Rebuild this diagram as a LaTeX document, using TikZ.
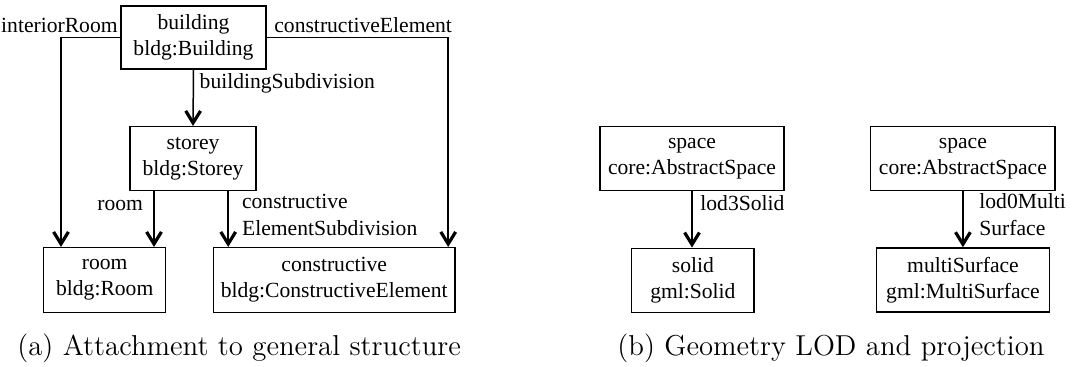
\documentclass[tikz,border=0pt]{standalone}
\usepackage{fontspec}
\newfontfamily\diagfont{Liberation Serif}
\usetikzlibrary{arrows.meta}
\begin{document}
\begin{tikzpicture}[
  x=0.5pt, y=-0.5pt,
  box/.style={draw, line width=0.75pt, inner sep=0pt, align=center,
    font=\diagfont\fontsize{10.8}{13}\selectfont},
  arr/.style={line width=0.75pt,
    -{Straight Barb[length=6pt,width=7.4pt,line width=1.6pt]}},
  lbl/.style={inner sep=0pt, align=left,
    font=\diagfont\fontsize{10.8}{13.4}\selectfont},
  captext/.style={inner sep=0pt, anchor=base west,
    font=\fontsize{14.4}{17}\selectfont}
]
\useasboundingbox (0,0) rectangle (1074,366);

% (a) attachment to the general structure
\node[box, minimum width=72.5pt, minimum height=31.5pt] (bldg) at (193.5,37.5) {building\\bldg:Building};
\node[box, minimum width=63pt, minimum height=32pt] (storey) at (193,158.7) {storey\\bldg:Storey};
\node[box, minimum width=61pt, minimum height=32.3pt] (room) at (104.7,280) {room\\bldg:Room};
\node[box, minimum width=120.8pt, minimum height=32.3pt] (constr) at (334.2,280) {constructive\\bldg:ConstructiveElement};

\draw[arr] (bldg.south) -- (storey.north);
\draw[arr] ([xshift=-19.5pt]storey.south) -- ([xshift=-19.5pt]storey.south |- room.north);
\draw[arr] ([xshift=17.6pt]storey.south) -- ([xshift=17.6pt]storey.south |- constr.north);
\draw[arr] (bldg.west) -| ([xshift=-21.85pt]room.north);
\draw[arr] (bldg.east) -| ([xshift=57pt]constr.north);

\node[lbl, anchor=base east] (lIR) at (118,32.3) {interiorRoom};
\node[lbl, anchor=base west] (lCE) at (274,32.3) {constructiveElement};
\node[lbl, anchor=base west] (lBS) at (199.3,88.3) {buildingSubdivision};
\node[lbl, anchor=base east] (lR) at (143.3,210.7) {room};
% for a two-line label the base anchor sits on the last line
\node[lbl, anchor=base west] (lCES) at (241.7,235) {constructive\\ElementSubdivision};

% (b) geometry LOD and projection
\node[box, minimum width=92pt, minimum height=32pt] (sp1) at (692,158.7) {space\\core:AbstractSpace};
\node[box, minimum width=61.2pt, minimum height=32pt] (solid) at (692.9,280.3) {solid\\gml:Solid};
\node[box, minimum width=92.2pt, minimum height=32pt] (sp2) at (962.9,158.7) {space\\core:AbstractSpace};
\node[box, minimum width=86.3pt, minimum height=32pt] (msurf) at (963,280) {multiSurface\\gml:MultiSurface};

\draw[arr] (sp1.south) -- (sp1.south |- solid.north);
\draw[arr] (sp2.south) -- (sp2.south |- msurf.north);

\node[lbl, anchor=base west] (lL3) at (700,210) {lod3Solid};
\node[lbl, anchor=base west] (lL0) at (979,235) {lod0Multi\\Surface};

% sub-figure captions
\node[captext] (capa) at (17,355) {(a) Attachment to general structure};
\node[captext] (capb) at (617,355) {(b) Geometry LOD and projection};
\end{tikzpicture}
\end{document}
